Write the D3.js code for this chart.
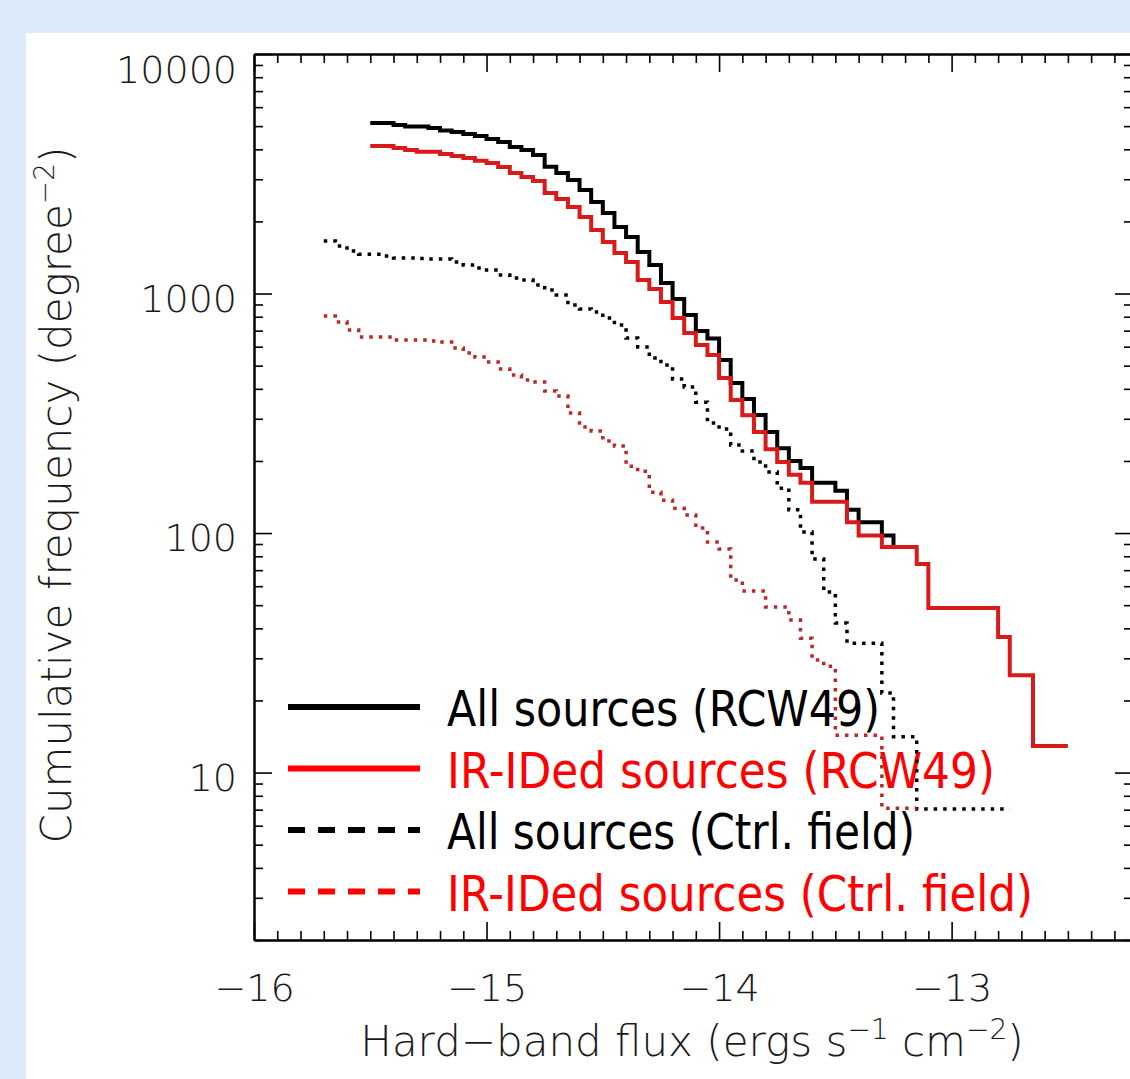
<!DOCTYPE html>
<html>
<head>
<meta charset="utf-8">
<script src="https://cdn.jsdelivr.net/npm/d3@7"></script>
<style>
  body { margin: 0; background: #dcebfc; }
  svg { display: block; }
</style>
</head>
<body>
<script>
// cumulative source counts per square degree vs log hard-band flux
// steps: value holds from flux[i] to flux[i+1], last one runs to *End

var allRcwFlux = [-15.50, -15.40, -15.35, -15.25, -15.20, -15.15, -15.10, -15.05, -15.00, -14.95,
  -14.90, -14.85, -14.80, -14.75, -14.70, -14.65, -14.60, -14.55, -14.50, -14.45,
  -14.40, -14.35, -14.30, -14.25, -14.20, -14.15, -14.10, -14.05, -14.00, -13.95,
  -13.90, -13.85, -13.80, -13.75, -13.70, -13.65, -13.60, -13.50, -13.45, -13.40,
  -13.30, -13.25];
var allRcwFreq = [5150, 5050, 4980, 4910, 4790, 4720, 4630, 4550, 4420, 4290,
  4090, 3975, 3790, 3385, 3185, 2980, 2705, 2410, 2170, 1895,
  1720, 1490, 1315, 1106, 948, 813, 697, 649, 528, 423,
  363, 311, 264, 226, 200, 187, 162, 150, 125, 111,
  97.6, 87.4];
var allRcwEnd = -13.15;

var irRcwFlux = [-15.50, -15.40, -15.35, -15.30, -15.20, -15.15, -15.10, -15.05, -15.00, -14.95,
  -14.90, -14.85, -14.80, -14.75, -14.70, -14.65, -14.60, -14.55, -14.50, -14.45,
  -14.40, -14.35, -14.30, -14.25, -14.20, -14.15, -14.10, -14.05, -14.00, -13.95,
  -13.90, -13.85, -13.80, -13.75, -13.70, -13.65, -13.60, -13.45, -13.40, -13.30,
  -13.15, -13.10, -12.80, -12.75, -12.65];
var irRcwFreq = [4130, 4050, 3975, 3910, 3825, 3750, 3680, 3585, 3505, 3375,
  3185, 3065, 2950, 2630, 2480, 2300, 2085, 1840, 1640, 1475,
  1355, 1140, 1045, 921, 790, 684, 610, 554, 444, 359,
  310, 264, 224, 198, 175, 162, 135, 111, 97.6, 87.4,
  74.2, 48.6, 36.8, 25.5, 12.9];
var irRcwEnd = -12.50;

var allCtrlFlux = [-15.70, -15.65, -15.60, -15.55, -15.45, -15.40, -15.30, -15.25, -15.15, -15.10,
  -15.05, -15.00, -14.95, -14.90, -14.85, -14.80, -14.75, -14.70, -14.65, -14.60,
  -14.55, -14.50, -14.45, -14.40, -14.35, -14.30, -14.25, -14.20, -14.15, -14.10,
  -14.05, -14.00, -13.95, -13.90, -13.85, -13.80, -13.75, -13.70, -13.65, -13.60,
  -13.55, -13.50, -13.45, -13.30, -13.25, -13.15];
var allCtrlFreq = [1657, 1580, 1505, 1460, 1435, 1407, 1400, 1394, 1354, 1315,
  1278, 1253, 1195, 1161, 1139, 1085, 1034, 986, 895, 862,
  837, 790, 739, 652, 598, 538, 503, 440, 407, 352,
  288, 272, 233, 220, 198, 180, 154, 125, 101, 77.9,
  56.7, 42.1, 34.7, 21.5, 14.1, 7.04];
var allCtrlEnd = -12.75;

var irCtrlFlux = [-15.70, -15.65, -15.60, -15.55, -15.40, -15.25, -15.20, -15.15, -15.10, -15.05,
  -15.00, -14.95, -14.90, -14.85, -14.80, -14.75, -14.70, -14.65, -14.60, -14.55,
  -14.50, -14.45, -14.40, -14.35, -14.30, -14.25, -14.20, -14.15, -14.10, -14.05,
  -14.00, -13.95, -13.90, -13.80, -13.70, -13.65, -13.60, -13.55, -13.50, -13.30];
var irCtrlFreq = [805, 760, 704, 658, 639, 634, 627, 592, 565, 543,
  518, 484, 457, 435, 427, 392, 373, 317, 277, 267,
  242, 231, 190, 181, 148, 137, 127, 119, 105, 91.7,
  85.8, 63.7, 57.3, 49.1, 43.3, 36.4, 29.5, 27.8, 14.3, 7.1];
var irCtrlEnd = -13.15;

var xMajor = [-16, -15, -14, -13];
var yMajor = [10, 100, 1000, 10000];
var legendLabels = ["All sources (RCW49)", "IR-IDed sources (RCW49)",
  "All sources (Ctrl. field)", "IR-IDed sources (Ctrl. field)"];

var W = 1130, H = 1079;
var svg = d3.select("body").append("svg").attr("width", W).attr("height", H);

svg.append("rect").attr("width", W).attr("height", H).attr("fill", "#dcebfc");
svg.append("rect").attr("x", 26).attr("y", 33).attr("width", W - 26).attr("height", H - 33).attr("fill", "#ffffff");

var x = d3.scaleLinear().domain([-16, -12.22]).range([254, 1133]);
var y = d3.scaleLog().domain([2, 10000]).range([940, 54]);

var tickFont = "'DejaVu Sans', sans-serif";
var fs = 38;

// minor ticks
var xMinor = d3.range(-16, -12.2, 0.1).filter(function(v) {
  return Math.abs(v - Math.round(v)) > 0.01;
});
var yMinor = [];
[1, 10, 100, 1000].forEach(function(d) {
  for (var m = 2; m <= 9; m++) {
    if (m * d >= 2 && m * d < 10000) yMinor.push(m * d);
  }
});

var axG = svg.append("g").attr("class", "axes");

function styleAxis(g) {
  g.select(".domain").attr("stroke", "#000").attr("stroke-width", 2);
  g.selectAll(".tick line").attr("stroke", "#000").attr("stroke-width", 1.6);
  g.selectAll("text").attr("font-family", tickFont).attr("font-size", fs)
    .attr("font-weight", 200).attr("fill", "#1a1a1a");
}

// bottom
axG.append("g").attr("transform", "translate(0,940)")
  .call(d3.axisBottom(x).tickValues(xMinor).tickSize(-9).tickSizeOuter(0).tickFormat(""))
  .call(styleAxis);
axG.append("g").attr("transform", "translate(0,940)")
  .call(d3.axisBottom(x).tickValues(xMajor).tickSize(-18).tickSizeOuter(0).tickPadding(34)
    .tickFormat(function(d) { return "\u2212" + Math.abs(d); }))
  .call(styleAxis);
// top
axG.append("g").attr("transform", "translate(0,54)")
  .call(d3.axisTop(x).tickValues(xMinor).tickSize(-9).tickSizeOuter(0).tickFormat(""))
  .call(styleAxis);
axG.append("g").attr("transform", "translate(0,54)")
  .call(d3.axisTop(x).tickValues(xMajor).tickSize(-18).tickSizeOuter(0).tickFormat(""))
  .call(styleAxis);
// left
axG.append("g").attr("transform", "translate(254,0)")
  .call(d3.axisLeft(y).tickValues(yMinor).tickSize(-9).tickSizeOuter(0).tickFormat(""))
  .call(styleAxis);
var yAx = axG.append("g").attr("transform", "translate(254,0)")
  .call(d3.axisLeft(y).tickValues(yMajor).tickSize(-18).tickSizeOuter(0).tickPadding(17)
    .tickFormat(d3.format("d")))
  .call(styleAxis);
yAx.selectAll("text").attr("dy", function(d) { return d === 10000 ? "0.76em" : "0.46em"; });
// right
axG.append("g").attr("transform", "translate(1133,0)")
  .call(d3.axisRight(y).tickValues(yMinor).tickSize(-9).tickSizeOuter(0).tickFormat(""))
  .call(styleAxis);
axG.append("g").attr("transform", "translate(1133,0)")
  .call(d3.axisRight(y).tickValues(yMajor).tickSize(-18).tickSizeOuter(0).tickFormat(""))
  .call(styleAxis);

// axis titles
var tfs = 42;
var xt = svg.append("text").attr("x", 692).attr("y", 1056).attr("text-anchor", "middle")
  .attr("font-family", tickFont).attr("font-size", tfs).attr("font-weight", 200).attr("fill", "#1a1a1a");
xt.append("tspan").text("Hard\u2212band flux (ergs s");
xt.append("tspan").attr("dy", -17).attr("font-size", 28).text("\u22121");
xt.append("tspan").attr("dy", 17).text(" cm");
xt.append("tspan").attr("dy", -17).attr("font-size", 28).text("\u22122");
xt.append("tspan").attr("dy", 17).text(")");

var yt = svg.append("text").attr("transform", "translate(71,495) rotate(-90)")
  .attr("text-anchor", "middle")
  .attr("font-family", tickFont).attr("font-size", tfs).attr("font-weight", 200).attr("fill", "#1a1a1a");
yt.append("tspan").text("Cumulative frequency (degree");
yt.append("tspan").attr("dy", -17).attr("font-size", 28).text("\u22122");
yt.append("tspan").attr("dy", 17).text(")");

// legend (under the curves)
var legColors = ["#000000", "#ff0000", "#000000", "#ff0000"];
var legDash = [null, null, "17,13", "17,13"];
var legWidths = [433, 548, 468, 586];
var legG = svg.append("g").attr("class", "legend");
legendLabels.forEach(function(lab, i) {
  var ly = 707 + i * 61.5;
  legG.append("line").attr("x1", 288).attr("x2", 420).attr("y1", ly).attr("y2", ly)
    .attr("stroke", legColors[i]).attr("stroke-width", 6)
    .attr("stroke-dasharray", legDash[i]);
  legG.append("text").attr("x", 447).attr("y", ly + 19)
    .attr("font-family", "'DejaVu Sans', Verdana, sans-serif").attr("font-size", 50)
    .attr("fill", legColors[i])
    .attr("textLength", legWidths[i]).attr("lengthAdjust", "spacingAndGlyphs")
    .text(lab);
});

// step curves
function stepPoints(flux, freq, end) {
  var pts = flux.map(function(f, i) { return [f, freq[i]]; });
  pts.push([end, freq[freq.length - 1]]);
  return pts;
}
var line = d3.line()
  .x(function(d) { return x(d[0]); })
  .y(function(d) { return y(d[1]); })
  .curve(d3.curveStepAfter);

var series = [
  { pts: stepPoints(allCtrlFlux, allCtrlFreq, allCtrlEnd), color: "#000000", dash: "3.5,6", w: 3.5 },
  { pts: stepPoints(irCtrlFlux, irCtrlFreq, irCtrlEnd), color: "#b52a2a", dash: "3.5,6", w: 3.5 },
  { pts: stepPoints(allRcwFlux, allRcwFreq, allRcwEnd), color: "#000000", dash: null, w: 4 },
  { pts: stepPoints(irRcwFlux, irRcwFreq, irRcwEnd), color: "#d81a1a", dash: null, w: 4 }
];
var curveG = svg.append("g").attr("class", "curves");
series.forEach(function(s) {
  curveG.append("path").attr("d", line(s.pts))
    .attr("fill", "none").attr("stroke", s.color).attr("stroke-width", s.w)
    .attr("stroke-dasharray", s.dash).attr("stroke-linejoin", "miter");
});
</script>
</body>
</html>
